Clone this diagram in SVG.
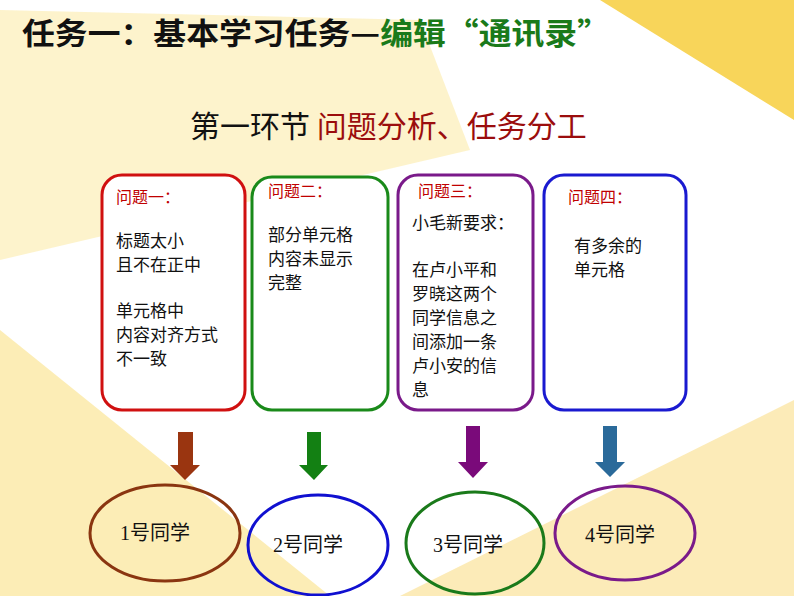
<svg xmlns="http://www.w3.org/2000/svg" width="794" height="596" viewBox="0 0 794 596">
<style>
.t{font-family:"Noto Sans CJK SC","Liberation Sans",sans-serif;font-size:17px;fill:#111}
.h{font-family:"Noto Sans CJK SC",sans-serif;font-size:16px;fill:#c00000}
.box{fill:#fff;stroke-width:3}
.el{fill:none;stroke-width:3}
.n{font-family:"Liberation Serif","Noto Sans CJK SC",serif;font-size:20px;fill:#111}
</style>
<rect width="794" height="596" fill="#fff"/>
<polygon points="0,10 420,20 470,150 0,260" fill="#fdf0bf" opacity="0.8"/>
<polygon points="600,0 794,0 794,120" fill="#f8d55a"/>
<polygon points="0,330 330,596 0,596" fill="#fbe8a4" opacity="0.8"/>
<polygon points="400,596 794,400 794,596" fill="#fbe39a" opacity="0.7"/>
<text x="22" y="44" font-family="Noto Sans CJK SC,sans-serif" font-size="30" font-weight="bold" fill="#111" textLength="588" lengthAdjust="spacingAndGlyphs">任务一：基本学习任务—<tspan fill="#1a7a1a">编辑“通讯录”</tspan></text>
<text x="190" y="137" font-family="Noto Sans CJK SC,serif" font-size="30" fill="#111">第一环节 <tspan fill="#9b0d0d">问题分析、任务分工</tspan></text>
<g id="box1"><rect class="box" x="102" y="175" width="143" height="235" rx="20" stroke="#d01010"/>
<text class="h" x="116" y="203">问题一：</text>
<text class="t" x="116" y="247">标题太小</text><text class="t" x="116" y="271">且不在正中</text>
<text class="t" x="116" y="317">单元格中</text><text class="t" x="116" y="341">内容对齐方式</text><text class="t" x="116" y="365">不一致</text></g>
<g id="box2"><rect class="box" x="252" y="177" width="136" height="233" rx="20" stroke="#1a8a1a"/>
<text class="h" x="268" y="197">问题二：</text>
<text class="t" x="268" y="241">部分单元格</text><text class="t" x="268" y="265">内容未显示</text><text class="t" x="268" y="289">完整</text></g>
<g id="box3"><rect class="box" x="398" y="175" width="135" height="235" rx="20" stroke="#7a1a8a"/>
<text class="h" x="418" y="197">问题三：</text>
<text class="t" x="412" y="229">小毛新要求：</text>
<text class="t" x="412" y="276">在卢小平和</text><text class="t" x="412" y="300">罗晓这两个</text><text class="t" x="412" y="324">同学信息之</text><text class="t" x="412" y="348">间添加一条</text><text class="t" x="412" y="372">卢小安的信</text><text class="t" x="412" y="396">息</text></g>
<g id="box4"><rect class="box" x="544" y="175" width="142" height="235" rx="20" stroke="#1a1ad0"/>
<text class="h" x="568" y="203">问题四：</text>
<text class="t" x="574" y="252">有多余的</text><text class="t" x="574" y="276">单元格</text></g>
<g id="connectors">
<polygon points="178,432 193,432 193,465 200,465 185,480 170,465 178,465" fill="#9a3510"/>
<polygon points="307,432 321,432 321,465 328,465 314,480 299,465 307,465" fill="#138013"/>
<polygon points="466,426 480,426 480,462 488,462 473,478 458,462 466,462" fill="#7a0a7a"/>
<polygon points="603,426 617,426 617,462 625,462 610,477 595,462 603,462" fill="#2a6a9a"/>
</g>
<g id="s1"><ellipse class="el" cx="165" cy="533" rx="75" ry="48" stroke="#8a3510"/><text class="n" x="120" y="540">1号同学</text></g>
<g id="s2"><ellipse class="el" cx="318" cy="545" rx="70" ry="50" stroke="#1010d0"/><text class="n" x="273" y="552">2号同学</text></g>
<g id="s3"><ellipse class="el" cx="475" cy="543" rx="69" ry="51" stroke="#1a7a1a"/><text class="n" x="433" y="552">3号同学</text></g>
<g id="s4"><ellipse class="el" cx="625" cy="533" rx="70" ry="47" stroke="#7a1a8a"/><text class="n" x="585" y="542">4号同学</text></g>
</svg>
